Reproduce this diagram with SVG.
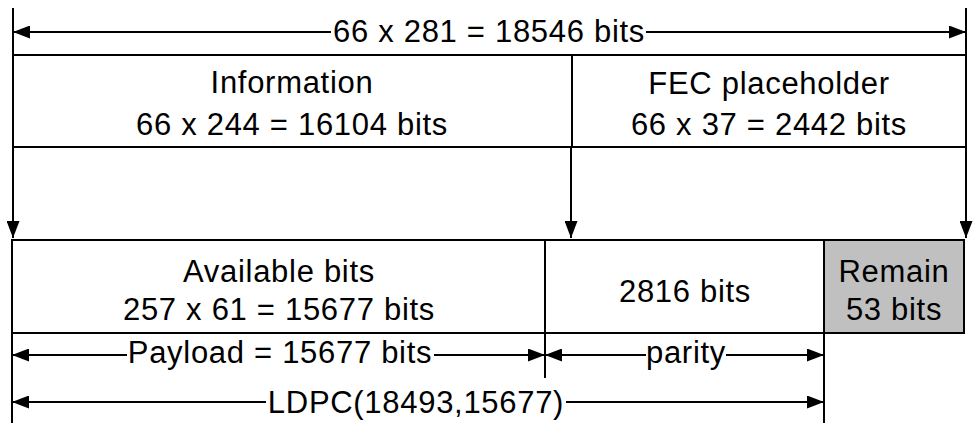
<svg xmlns="http://www.w3.org/2000/svg" width="974" height="423" viewBox="0 0 974 423">
<style>
.ln{stroke:#000;stroke-width:2;fill:none}
.bx{stroke:#000;stroke-width:2;fill:#fff}
.gr{stroke:#000;stroke-width:2;fill:#c0c0c0}
text{font-family:"Liberation Sans",Arial,sans-serif;font-size:31px;letter-spacing:0.7px;fill:#000;text-anchor:middle}
.ar{marker-end:url(#ah)}
.sa{marker-start:url(#ah)}
</style>
<defs>
<marker id="ah" markerUnits="userSpaceOnUse" markerWidth="17" markerHeight="13" refX="17" refY="6.5" orient="auto-start-reverse">
<path d="M0,0 L17,6.5 L0,13 z" fill="#000"/>
</marker>
</defs>
<rect width="974" height="423" fill="#fff"/>
<g id="information">
<rect class="bx" x="13" y="55" width="559" height="92"/>
<text x="292" y="93">Information</text>
<text x="292" y="135">66 x 244 = 16104 bits</text>
</g>
<g id="fec">
<rect class="bx" x="572" y="55" width="394" height="92"/>
<text x="769" y="94">FEC placeholder</text>
<text x="769" y="135">66 x 37 = 2442 bits</text>
</g>
<g id="available">
<rect class="bx" x="12" y="240" width="533" height="93"/>
<text x="279" y="282">Available bits</text>
<text x="279" y="320">257 x 61 = 15677 bits</text>
</g>
<g id="parity-bits">
<rect class="bx" x="545" y="240" width="279" height="93"/>
<text x="685" y="302">2816 bits</text>
</g>
<g id="remain">
<rect class="gr" x="824" y="240" width="140" height="93"/>
<text x="894" y="282">Remain</text>
<text x="894" y="320">53 bits</text>
</g>
<g id="connectors">
<line class="ln" x1="13" y1="8" x2="13" y2="55"/>
<line class="ln" x1="966" y1="8" x2="966" y2="55"/>
<line class="ln sa" x1="13" y1="32" x2="331" y2="32"/>
<line class="ln ar" x1="646" y1="32" x2="966" y2="32"/>
<text x="489" y="42">66 x 281 = 18546 bits</text>
<line class="ln ar" x1="13" y1="147" x2="13" y2="238"/>
<line class="ln ar" x1="571" y1="147" x2="571" y2="238"/>
<line class="ln ar" x1="966" y1="147" x2="966" y2="238"/>
<line class="ln" x1="12" y1="333" x2="12" y2="423"/>
<line class="ln" x1="545" y1="333" x2="545" y2="378"/>
<line class="ln" x1="824" y1="333" x2="824" y2="423"/>
<line class="ln sa" x1="12" y1="355" x2="127" y2="355"/>
<line class="ln ar" x1="434" y1="355" x2="545" y2="355"/>
<text x="280" y="363">Payload = 15677 bits</text>
<line class="ln sa" x1="545" y1="355" x2="646" y2="355"/>
<line class="ln ar" x1="726" y1="355" x2="824" y2="355"/>
<text x="686" y="363">parity</text>
<line class="ln sa" x1="12" y1="402" x2="266" y2="402"/>
<line class="ln ar" x1="566" y1="402" x2="824" y2="402"/>
<text x="416" y="413">LDPC(18493,15677)</text>
</g>
</svg>
